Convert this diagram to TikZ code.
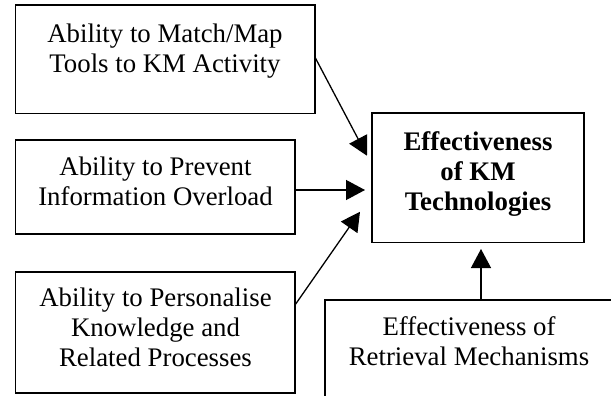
\documentclass[tikz,border=0pt]{standalone}
\usepackage{fontspec}
\setmainfont{Liberation Serif}
\usetikzlibrary{arrows.meta,calc}
\begin{document}
\begin{tikzpicture}[x=1pt,y=-1pt,
  boxnode/.style={draw=black,line width=1.6pt,inner sep=0pt,outer sep=0pt,anchor=north west,fill=none},
  txt/.style={anchor=base,align=center,inner sep=0pt,font=\fontsize{26.8pt}{30pt}\selectfont},
  arr/.style={line width=1.3pt,-{Triangle[length=19pt,width=20pt]}}]
\fill[white] (0,0) rectangle (611,396);
\useasboundingbox (0,0) rectangle (611,396);
\clip (0,0) rectangle (611,396);
% boxes
\node[boxnode,minimum width=299.5pt,minimum height=108.5pt] (b1) at (15.5,5) {};
\node[boxnode,minimum width=279.5pt,minimum height=94pt] (b2) at (15.5,140) {};
\node[boxnode,minimum width=279.5pt,minimum height=121pt] (b3) at (15.5,272) {};
\node[boxnode,minimum width=212pt,minimum height=129.5pt] (c) at (372,113) {};
\node[boxnode,minimum width=288pt,minimum height=130pt] (b4) at (325,300) {};
% texts (anchor base = last line's baseline)
\node[txt] (t1) at (165,73) {Ability to Match/Map\\Tools to KM Activity};
\node[txt] (t2) at (155.5,205) {Ability to Prevent\\Information Overload};
\node[txt] (t3) at (155.5,366) {Ability to Personalise\\Knowledge and\\Related Processes};
\node[txt,font=\fontsize{26.8pt}{30pt}\selectfont\bfseries] (tc) at (478,210) {Effectiveness\\of KM\\Technologies};
\node[txt] (t4) at (469,365) {Effectiveness of\\Retrieval Mechanisms};
% arrows
\draw[arr] ($(b1.east)+(0,-2)$) -- ($(c.west)+(-5,-22)$);
\draw[arr] ($(b2.east)+(0,3)$) -- ($(c.west |- b2.east)+(-7,3)$);
\draw[arr] ($(b3.north east)+(0,33)$) -- ($(c.west)+(-12,34)$);
\draw[arr] ($(b4.north -| c.south)+(3,0)$) -- ($(c.south)+(3,6.5)$);
\end{tikzpicture}
\end{document}
